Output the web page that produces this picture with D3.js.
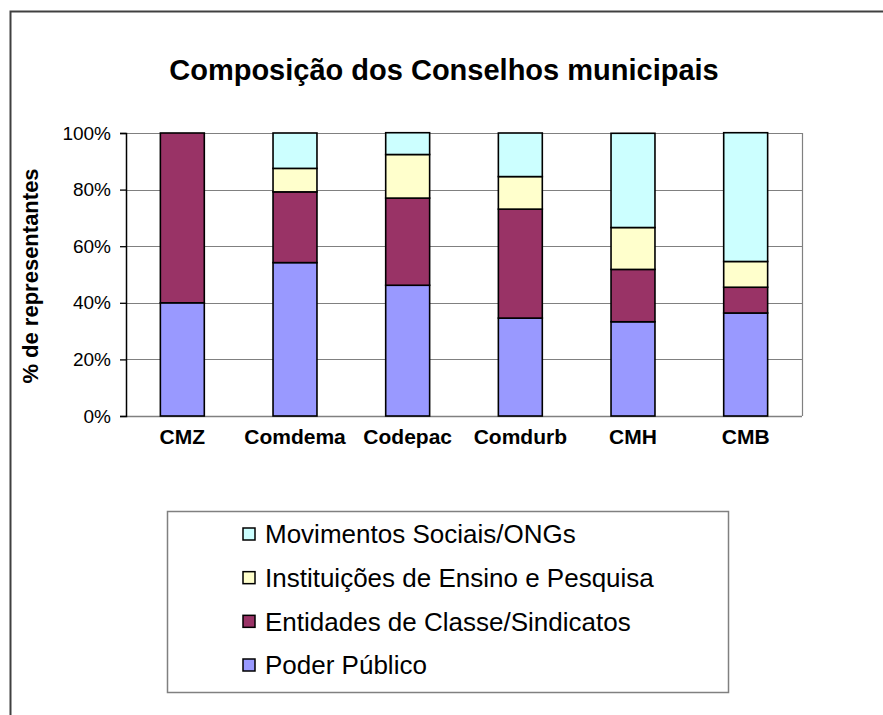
<!DOCTYPE html>
<html>
<head>
<meta charset="utf-8">
<script src="https://cdn.jsdelivr.net/npm/d3@7"></script>
<style>
  html, body { margin: 0; padding: 0; background: #fff; }
  svg { display: block; }
  text { font-family: "Liberation Sans", Arial, sans-serif; }
</style>
</head>
<body>
<div id="chart"></div>
<script>
const categories = ["CMZ", "Comdema", "Codepac", "Comdurb", "CMH", "CMB"];
const poderPublico = [40, 54.2, 46.2, 34.6, 33.3, 36.4];
const entidadesClasse = [60, 25, 30.8, 38.5, 18.5, 9.1];
const instituicoesEnsino = [0, 8.3, 15.4, 11.5, 14.8, 9.1];
const movimentosSociais = [0, 12.5, 7.7, 15.4, 33.3, 45.5];
const seriesNames = ["Poder Público", "Entidades de Classe/Sindicatos", "Instituições de Ensino e Pesquisa", "Movimentos Sociais/ONGs"];
const seriesColors = ["#9999FF", "#993366", "#FFFFCC", "#CCFFFF"];
const yTicks = [0, 20, 40, 60, 80, 100];
const titleText = "Composição dos Conselhos municipais";
const yTitle = "% de representantes";

const W = 883, H = 715;
const svg = d3.select("#chart").append("svg").attr("width", W).attr("height", H);

// outer chart border
svg.append("rect").attr("x", 10.5).attr("y", 11.5).attr("width", 900).attr("height", 800)
  .attr("fill", "none").attr("stroke", "#404040").attr("stroke-width", 2);

const plot = { left: 126, right: 802, top: 133, bottom: 416 };

const x = d3.scaleBand().domain(categories).range([plot.left, plot.right])
  .paddingInner(0.61).paddingOuter(0.305);
const y = d3.scaleLinear().domain([0, 100]).range([plot.bottom, plot.top]);

// gridlines
svg.append("g").selectAll("line").data(yTicks.filter(d => d > 0)).join("line")
  .attr("x1", plot.left).attr("x2", plot.right)
  .attr("y1", d => Math.round(y(d)) + 0.5).attr("y2", d => Math.round(y(d)) + 0.5)
  .attr("stroke", "#808080").attr("stroke-width", 1.2);
// right border of plot area
svg.append("line").attr("x1", plot.right + 0.5).attr("x2", plot.right + 0.5)
  .attr("y1", y(100)).attr("y2", y(0)).attr("stroke", "#808080").attr("stroke-width", 1.2);
// bottom axis line
svg.append("line").attr("x1", plot.left).attr("x2", plot.right)
  .attr("y1", Math.round(y(0)) + 0.5).attr("y2", Math.round(y(0)) + 0.5)
  .attr("stroke", "#808080").attr("stroke-width", 1.5);

// stacked data
const table = categories.map((c, i) => ({
  cat: c,
  s0: poderPublico[i], s1: entidadesClasse[i], s2: instituicoesEnsino[i], s3: movimentosSociais[i]
}));
const stack = d3.stack().keys(["s0", "s1", "s2", "s3"]);
const stacked = stack(table);

const bars = svg.append("g");
stacked.forEach((layer, li) => {
  bars.append("g").selectAll("rect").data(layer.filter(d => d[1] - d[0] > 0)).join("rect")
    .attr("x", d => x(d.data.cat))
    .attr("width", x.bandwidth())
    .attr("y", d => y(d[1]))
    .attr("height", d => y(d[0]) - y(d[1]))
    .attr("fill", seriesColors[li])
    .attr("stroke", "#000").attr("stroke-width", 1.6);
});

// left axis
const yAxis = d3.axisLeft(y).tickValues(yTicks).tickFormat(d => d + "%").tickSize(6).tickPadding(9);
const ga = svg.append("g").attr("transform", `translate(${plot.left},0)`).call(yAxis);
ga.select(".domain").attr("stroke", "#000").attr("stroke-width", 1.5);
ga.selectAll(".tick line").attr("stroke", "#000").attr("stroke-width", 1.3);
ga.selectAll(".tick text").attr("font-size", 19).attr("fill", "#000")
  .attr("font-family", "Liberation Sans, Arial, sans-serif");

// category labels
const xAxis = d3.axisBottom(x).tickSize(0).tickPadding(13);
const gx = svg.append("g").attr("transform", `translate(0,${plot.bottom})`).call(xAxis);
gx.select(".domain").remove();
gx.selectAll(".tick text").attr("font-size", 21).attr("font-weight", "bold").attr("fill", "#000")
  .attr("font-family", "Liberation Sans, Arial, sans-serif");

// title
svg.append("text").attr("x", 444).attr("y", 80).attr("text-anchor", "middle")
  .attr("font-size", 29).attr("font-weight", "bold").text(titleText);

// y title
svg.append("text").attr("transform", "translate(38,276) rotate(-90)")
  .attr("text-anchor", "middle").attr("font-size", 22).attr("font-weight", "bold").text(yTitle);

// legend
const legend = svg.append("g");
legend.append("rect").attr("x", 167.5).attr("y", 511.5).attr("width", 561).attr("height", 181)
  .attr("fill", "#fff").attr("stroke", "#808080").attr("stroke-width", 1.5);
const legendOrder = [3, 2, 1, 0];
const ly = d3.scalePoint().domain(legendOrder).range([534, 665]);
legendOrder.forEach(si => {
  const cy = ly(si);
  legend.append("rect").attr("x", 243).attr("y", cy - 6).attr("width", 12).attr("height", 12)
    .attr("fill", seriesColors[si]).attr("stroke", "#000").attr("stroke-width", 1.5);
  legend.append("text").attr("x", 265).attr("y", cy).attr("dy", "0.36em")
    .attr("font-size", 26).attr("fill", "#000").text(seriesNames[si]);
});
</script>
</body>
</html>
